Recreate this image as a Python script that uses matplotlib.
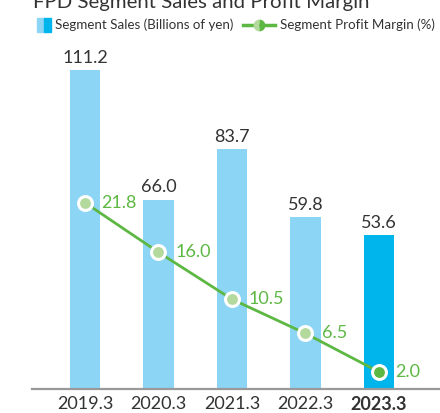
import matplotlib.pyplot as plt
from matplotlib.patches import Rectangle
from matplotlib.lines import Line2D

plt.rcParams['font.family'] = ['Lato', 'DejaVu Sans']

# data
years = ['2019.3', '2020.3', '2021.3', '2022.3', '2023.3']
sales = [111.2, 66.0, 83.7, 59.8, 53.6]
margin = [21.8, 16.0, 10.5, 6.5, 2.0]

light_blue = '#8dd5f5'
dark_blue = '#00b4ec'
green = '#5db843'
light_green = '#b3d99d'
text_gray = '#333333'

W, H = 440, 413
fig = plt.figure(figsize=(W / 100, H / 100), dpi=100)
ax = fig.add_axes([32 / W, 24 / H, 408 / W, 344.4 / H])

x = range(len(years))
colors = [light_blue] * (len(years) - 1) + [dark_blue]
ax.bar(x, sales, width=0.42, color=colors, zorder=1)
ax.set_xlim(-0.721, 4.83)
ax.set_ylim(0, 120)

for i, v in enumerate(sales):
    ax.annotate(f'{v:.1f}', (i, v), xytext=(0, 3), textcoords='offset points',
                ha='center', va='bottom', fontsize=13, color=text_gray)

ax.set_xticks(list(x))
ax.set_xticklabels(years, fontsize=13, color=text_gray)
ax.get_xticklabels()[-1].set_fontweight('bold')
ax.tick_params(axis='x', length=0, pad=5)
ax.set_yticks([])
for s in ['top', 'right', 'left']:
    ax.spines[s].set_visible(False)
ax.spines['bottom'].set_color('#999999')
ax.spines['bottom'].set_linewidth(1.6)

ax2 = ax.twinx()
ax2.set_ylim(0, 40.3)
ax2.axis('off')
ax2.plot(x, margin, color=green, lw=2, zorder=2)
face = [light_green] * (len(years) - 1) + [green]
for i, m in enumerate(margin):
    ax2.plot(i, m, 'o', ms=10, mfc=face[i], mec='white', mew=2.2, zorder=3)
    ax2.annotate(f'{m:.1f}', (i, m), xytext=(12, 0), textcoords='offset points',
                 ha='left', va='center', fontsize=13, color=green)

# title (clipped at the top, as in the source)
fig.text(33 / W, (H - 8) / H, 'FPD Segment Sales and Profit Margin',
         fontsize=14.7, color=text_gray, ha='left', va='baseline')

# legend drawn by hand
ly = (H - 25) / H
fig.add_artist(Rectangle((37 / W, (H - 32) / H), 7 / W, 14 / H,
                         color=light_blue, transform=fig.transFigure))
fig.add_artist(Rectangle((44 / W, (H - 32) / H), 7 / W, 14 / H,
                         color=dark_blue, transform=fig.transFigure))
fig.text(55 / W, ly, 'Segment Sales (Billions of yen)', fontsize=9.6,
         color=text_gray, ha='left', va='center')
fig.add_artist(Line2D([243 / W, 275 / W], [ly, ly], color=green, lw=2.5,
                      transform=fig.transFigure))
fig.add_artist(Line2D([259 / W], [ly], marker='o', ms=8.5, fillstyle='left',
                      mfc=light_green, mfcalt=green, mec='none',
                      transform=fig.transFigure))
fig.text(280 / W, ly, 'Segment Profit Margin (%)', fontsize=9.6,
         color=text_gray, ha='left', va='center')

fig.savefig('out.png', dpi=100)
